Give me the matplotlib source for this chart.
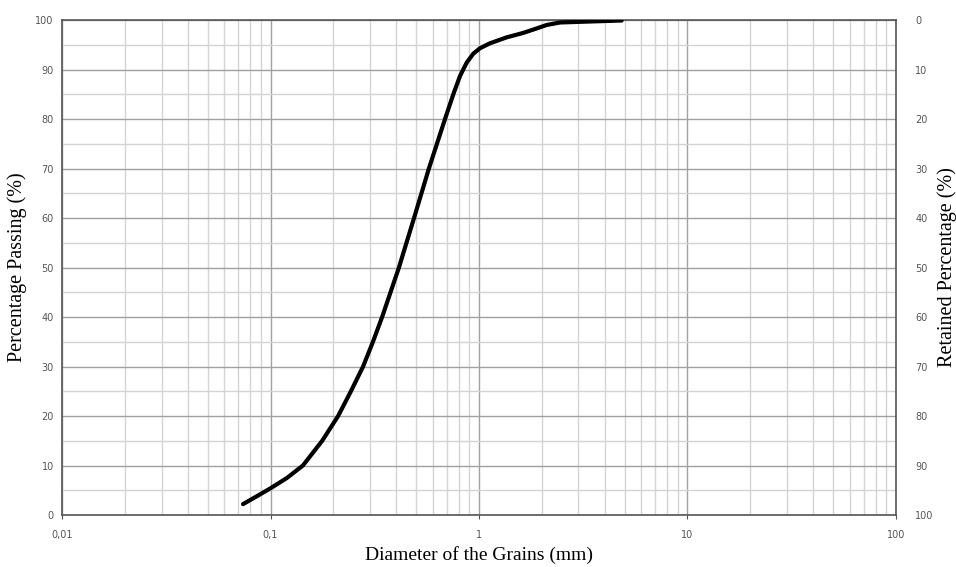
import numpy as np
import matplotlib.pyplot as plt
from matplotlib.ticker import FixedLocator, FuncFormatter, MultipleLocator, LogLocator, NullFormatter

plt.rcParams['font.family'] = ['Liberation Serif', 'DejaVu Serif']

# grain size distribution
diametro = [0.0738, 0.0852, 0.1, 0.12, 0.143, 0.177, 0.211, 0.243, 0.278, 0.31, 0.343,
            0.413, 0.488, 0.575, 0.687, 0.753, 0.811, 0.873, 0.939, 1.011, 1.129, 1.358,
            1.632, 1.891, 2.112, 2.446, 3.407, 4.835]
pasa = [2.2, 3.7, 5.4, 7.5, 10.0, 15.0, 20.0, 25.0, 30.0, 35.0, 40.0,
        50.0, 60.0, 70.0, 80.0, 85.0, 88.7, 91.4, 93.2, 94.3, 95.3, 96.5,
        97.4, 98.3, 99.0, 99.5, 99.7, 99.9]

x_ticks = [0.01, 0.1, 1, 10, 100]
x_labels = ['0,01', '0,1', '1', '10', '100']

fig = plt.figure(figsize=(9.56, 5.67), dpi=100)
ax = fig.add_axes([0.0649, 0.0917, 0.8723, 0.873])

ax.plot(diametro, pasa, color='black', lw=3, solid_capstyle='round', solid_joinstyle='round', zorder=5)

ax.set_xscale('log')
ax.set_xlim(0.01, 100)
ax.set_ylim(0, 100)
ax.xaxis.set_major_locator(FixedLocator(x_ticks))
ax.xaxis.set_major_formatter(FuncFormatter(lambda v, p: x_labels[x_ticks.index(v)] if v in x_ticks else ''))
ax.xaxis.set_minor_locator(LogLocator(base=10, subs=np.arange(2, 10), numticks=20))
ax.xaxis.set_minor_formatter(NullFormatter())
ax.yaxis.set_major_locator(MultipleLocator(10))
ax.yaxis.set_minor_locator(MultipleLocator(5))

ax.grid(True, which='major', color='#a0a0a0', lw=1.0)
ax.grid(True, which='minor', color='#d4d4d4', lw=1.0)
ax.tick_params(which='both', labelsize=7, colors='#555555', length=0, pad=6)
ax.tick_params(axis='x', which='major', length=3, direction='out', pad=8)
for lab in ax.get_xticklabels() + ax.get_yticklabels():
    lab.set_family('DejaVu Sans')
for s in ax.spines.values():
    s.set_color('#555555')
    s.set_linewidth(1.2)

ax2 = ax.twinx()
ax2.set_ylim(100, 0)
ax2.yaxis.set_major_locator(MultipleLocator(10))
ax2.tick_params(labelsize=7, colors='#555555', length=0, pad=14)
for lab in ax2.get_yticklabels():
    lab.set_family('DejaVu Sans')
for s in ax2.spines.values():
    s.set_visible(False)

ax.set_xlabel('Diameter of the Grains (mm)', fontsize=14)
ax.set_ylabel('Percentage Passing (%)', fontsize=14.5)
ax2.set_ylabel('Retained Percentage (%)', fontsize=14.5)
ax.xaxis.set_label_coords(0.5, -0.062)
ax.yaxis.set_label_coords(-0.042, 0.5)
ax2.yaxis.set_label_coords(1.049, 0.5)

fig.savefig('out.png', dpi=100)
